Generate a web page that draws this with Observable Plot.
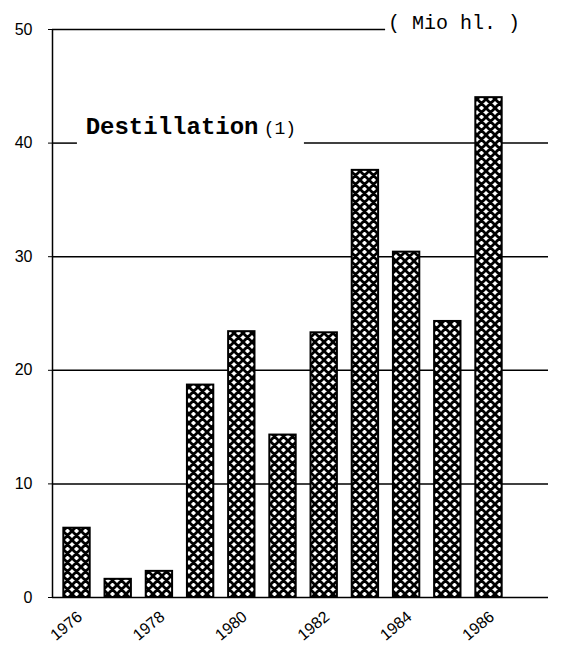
<!DOCTYPE html>
<html><head><meta charset="utf-8">
<script src="https://cdn.jsdelivr.net/npm/d3@7"></script>
<script src="https://cdn.jsdelivr.net/npm/@observablehq/plot@0.6"></script>
<style>body{margin:0;background:#fff}</style>
</head><body><div id="chart"></div>
<script>
// ---- data ----
const years = [1976, 1977, 1978, 1979, 1980, 1981, 1982, 1983, 1984, 1985, 1986];
const values = [6.1, 1.6, 2.3, 18.7, 23.4, 14.3, 23.3, 37.6, 30.4, 24.3, 44.0];
const yTicks = [0, 10, 20, 30, 40, 50];
const xTickLabels = [1976, 1978, 1980, 1982, 1984, 1986];
const unitLabel = "( Mio hl. )";
const titleLabel = "Destillation";
const noteLabel = "(1)";

const data = years.map((year, i) => ({year, value: values[i]}));
const xDomain = [1975.405, 1987.444];
const svgns = "http://www.w3.org/2000/svg";

function patternDefs() {
  const g = document.createElementNS(svgns, "g");
  g.innerHTML = '<defs><pattern id="xhatch" patternUnits="userSpaceOnUse" width="9" height="9">' +
    '<rect width="9" height="9" fill="#fff"/>' +
    '<path d="M-2,-2L11,11M-9,0L9,18M0,-9L18,9M-2,11L11,-2M-9,9L9,-9M0,18L18,0" stroke="#000" stroke-width="2.8" fill="none"/>' +
    '</pattern></defs>';
  return g;
}

const line = {stroke: "#000", strokeWidth: 1.5};

const chart = Plot.plot({
  width: 562,
  height: 647,
  marginLeft: 52,
  marginRight: 14,
  marginTop: 29,
  marginBottom: 50,
  style: {fontFamily: "'Liberation Sans', sans-serif", fontSize: "16px", color: "#000", background: "#fff", overflow: "visible"},
  x: {domain: xDomain},
  y: {domain: [0, 50]},
  marks: [
    patternDefs,
    Plot.ruleY([10, 20, 30], line),
    Plot.ruleY([40], {...line, x1: xDomain[0], x2: 1976.01}),
    Plot.ruleY([40], {...line, x1: 1981.52, x2: xDomain[1]}),
    Plot.ruleY([50], {...line, x1: xDomain[0], x2: 1983.49}),
    Plot.ruleY([0], line),
    Plot.ruleX([xDomain[0]], {...line, y1: 0, y2: 50}),
    Plot.rectY(data, {x1: d => d.year - 0.32, x2: d => d.year + 0.32, y: "value", fill: "url(#xhatch)", stroke: "#000", strokeWidth: 2}),
    Plot.axisY({ticks: yTicks, tickSize: 4, tickPadding: 16, label: null, fontSize: 16}),
    Plot.axisX({ticks: xTickLabels, tickFormat: d => String(d), tickSize: 0, tickRotate: -40, tickPadding: 17, dx: 3, label: null, fontSize: 16}),
    Plot.text([unitLabel], {x: 1983.55, y: 50, text: d => d, textAnchor: "start", dy: -7, fontFamily: "'Liberation Mono', monospace", fontSize: 20}),
    Plot.text([titleLabel], {x: 1976.21, y: 40, text: d => d, textAnchor: "start", lineAnchor: "bottom", dy: -9, fontFamily: "'Liberation Mono', monospace", fontSize: 24, fontWeight: "bold"}),
    Plot.text([noteLabel], {x: 1980.53, y: 40, text: d => d, textAnchor: "start", lineAnchor: "bottom", dy: -9, fontFamily: "'Liberation Mono', monospace", fontSize: 18})
  ]
});
document.getElementById("chart").appendChild(chart);
</script>
</body></html>
